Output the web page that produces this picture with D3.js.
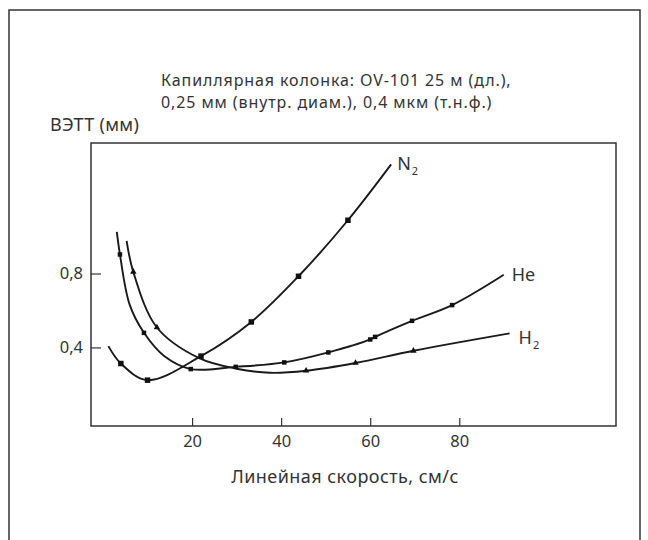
<!DOCTYPE html>
<html>
<head>
<meta charset="utf-8">
<script src="https://cdn.jsdelivr.net/npm/d3@7"></script>
<style>
  html, body { margin: 0; padding: 0; background: #fff; }
  svg { display: block; }
  text { font-family: "Noto Sans", "Open Sans", sans-serif; fill: #333; }
</style>
</head>
<body>
<svg id="chart" width="648" height="540"></svg>
<script>
// ---------- Data ----------
const titleLines = [
  "Капиллярная колонка: OV-101 25 м (дл.),",
  "0,25 мм (внутр. диам.), 0,4 мкм (т.н.ф.)"
];
const yTitle = "ВЭТТ (мм)";
const xTitle = "Линейная скорость, см/с";
const xTicks = [20, 40, 60, 80];
const yTicks = [0.4, 0.8];
const yTickLabels = ["0,4", "0,8"];

// N2 curve
const n2V = [1.2, 4.0, 10.0, 22.0, 33.3, 43.9, 55.0, 64.7];
const n2H = [0.407, 0.313, 0.223, 0.353, 0.538, 0.785, 1.088, 1.39];
const n2MarkV = [4.0, 10.0, 22.0, 33.3, 43.9, 55.0];
const n2MarkH = [0.313, 0.223, 0.353, 0.538, 0.785, 1.088];

// He curve
const heV = [3.1, 3.8, 6.0, 9.2, 13.8, 19.7, 29.8, 40.7, 50.6, 60.0, 61.1, 69.4, 78.4, 90.0];
const heH = [1.025, 0.903, 0.630, 0.479, 0.352, 0.283, 0.295, 0.319, 0.373, 0.443, 0.457, 0.544, 0.629, 0.793];
const heMarkV = [3.8, 9.2, 19.7, 29.8, 40.7, 50.6, 60.0, 61.1, 69.4, 78.4];
const heMarkH = [0.903, 0.479, 0.283, 0.295, 0.319, 0.373, 0.443, 0.457, 0.544, 0.629];

// H2 curve
const h2V = [5.3, 6.8, 12.1, 21.6, 30.0, 37.5, 45.6, 56.7, 69.7, 91.3];
const h2H = [0.976, 0.809, 0.508, 0.342, 0.285, 0.263, 0.274, 0.316, 0.382, 0.476];
const h2MarkV = [6.8, 12.1, 45.6, 56.7, 69.7];
const h2MarkH = [0.809, 0.508, 0.274, 0.316, 0.382];

const seriesNames = ["N", "He", "H"];
const seriesSubs = ["2", "", "2"];

// ---------- Layout ----------
const svg = d3.select("#chart");
const box = { left: 91, right: 616, top: 143, bottom: 426 };

const x = d3.scaleLinear().domain([-2.7, 115.2]).range([box.left, box.right]);
const y = d3.scaleLinear().domain([-0.025, 1.506]).range([box.bottom, box.top]);

// outer frame (open at bottom)
svg.append("path")
  .attr("d", d3.line()([[9, 540], [9, 10], [640, 10], [640, 540]]))
  .attr("fill", "none").attr("stroke", "#333").attr("stroke-width", 1.5);

// plot box
svg.append("rect")
  .attr("x", box.left).attr("y", box.top)
  .attr("width", box.right - box.left).attr("height", box.bottom - box.top)
  .attr("fill", "none").attr("stroke", "#333").attr("stroke-width", 1.5);

// x axis
const xAxis = svg.append("g")
  .attr("transform", `translate(0,${box.bottom})`)
  .call(d3.axisBottom(x).tickValues(xTicks).tickSizeInner(-8).tickSizeOuter(0).tickPadding(9));
xAxis.select(".domain").remove();
xAxis.selectAll("line").attr("stroke", "#333").attr("stroke-width", 1.2);
xAxis.selectAll("text").attr("font-size", 16.5).attr("fill", "#333")
  .style("font-family", '"Noto Sans", sans-serif');

// y axis
const yAxis = svg.append("g")
  .attr("transform", `translate(${box.left},0)`)
  .call(d3.axisLeft(y).tickValues(yTicks).tickFormat((d, i) => yTickLabels[i])
    .tickSizeInner(-10).tickSizeOuter(0).tickPadding(8));
yAxis.select(".domain").remove();
yAxis.selectAll("line").attr("stroke", "#333").attr("stroke-width", 1.2);
yAxis.selectAll("text").attr("font-size", 16.5).attr("fill", "#333")
  .style("font-family", '"Noto Sans", sans-serif');

// title: two lines
svg.append("g").selectAll("text").data(titleLines).join("text")
  .attr("x", 161).attr("y", (d, i) => 86 + i * 22)
  .attr("font-size", 16).attr("letter-spacing", 0.9).text(d => d);

svg.append("text").attr("x", 50).attr("y", 131).attr("font-size", 18)
  .attr("letter-spacing", 0.3).text(yTitle);
svg.append("text").attr("x", 345).attr("y", 483).attr("font-size", 18)
  .attr("letter-spacing", 0.45).attr("text-anchor", "middle").text(xTitle);

// curves
const line = d3.line().x(d => x(d[0])).y(d => y(d[1])).curve(d3.curveCatmullRom.alpha(0.5));
const curves = [
  d3.zip(n2V, n2H),
  d3.zip(heV, heH),
  d3.zip(h2V, h2H)
];
svg.append("g").selectAll("path").data(curves).join("path")
  .attr("d", line).attr("fill", "none").attr("stroke", "#1a1a1a").attr("stroke-width", 1.9);

// markers
const marks = [
  d3.zip(n2MarkV, n2MarkH),
  d3.zip(heMarkV, heMarkH),
  d3.zip(h2MarkV, h2MarkH)
];
const mg = svg.append("g");
marks.forEach((pts, si) => {
  if (si < 2) {
    const s = si === 0 ? 5.5 : 4.5;
    mg.append("g").selectAll("rect").data(pts).join("rect")
      .attr("x", d => x(d[0]) - s / 2).attr("y", d => y(d[1]) - s / 2)
      .attr("width", s).attr("height", s).attr("fill", "#111");
  } else {
    mg.append("g").selectAll("path").data(pts).join("path")
      .attr("d", d3.symbol().type(d3.symbolTriangle).size(18))
      .attr("transform", d => `translate(${x(d[0])},${y(d[1])})`)
      .attr("fill", "#111");
  }
});

// series labels
const labelPos = [
  { v: 64.7, h: 1.39, dx: 6, dy: 6 },
  { v: 90.0, h: 0.793, dx: 8, dy: 6 },
  { v: 91.3, h: 0.476, dx: 9, dy: 11 }
];
labelPos.forEach((p, i) => {
  const t = svg.append("text")
    .attr("x", x(p.v) + p.dx).attr("y", y(p.h) + p.dy)
    .attr("font-size", 18);
  t.append("tspan").text(seriesNames[i]);
  if (seriesSubs[i]) {
    t.append("tspan").attr("font-size", 11).attr("dy", 5).attr("dx", 1).text(seriesSubs[i]);
  }
});
</script>
</body>
</html>
